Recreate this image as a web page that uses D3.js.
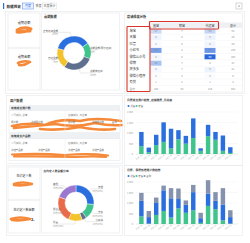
<!DOCTYPE html>
<html><head><meta charset="utf-8">
<script src="https://cdn.jsdelivr.net/npm/d3@7"></script>
<style>html,body{margin:0;padding:0;background:#fff;overflow:hidden}svg{display:block;font-family:"Noto Sans CJK SC","Noto Sans",sans-serif}</style>
</head><body><svg id="c" width="250" height="243"></svg>
<script>
// ---------- DATA ----------
const months = ["2023-01","2023-02","2023-03","2023-04","2023-05","2023-06","2023-07","2023-08","2023-09","2023-10","2023-11","2023-12","2024-01"];
const c1Old = [373,85,424,576,271,695,491,763,150,847,678,150,50];
const c1New = [677,220,491,932,932,440,373,932,121,543,372,731,272];
const c2A = [362,17,431,621,310,741,534,655,52,862,707,172,17];
const c2B = [741,311,569,982,914,449,380,862,224,586,396,759,311];
const c2C = [380,292,259,225,483,500,207,345,258,638,414,776,327];
const yTicks = [0,500,1000,1500,2000];
const donut1Names = ["正常还款金额","逾期金额(预计还款)","逾期未还款","已还金额"];
const donut1Vals = [130,55,105,70];
const donut2Names = ["天猫","京东","小红书","抖音","拼多多","其他"];
const donut2Vals = [95,50,15,45,85,70];
const channels = ["淘宝","天猫","抖音","小红书","微信公众号","得物","拼多多","微信小程序","有赞"];
const tableCols = ["直营","联营","代运营","总计"];
const colDirect = [27,8,4,60,6,40,5,2,1];
const colJoint = [7,8,8,4,8,7,7,3,2];
const colAgent = [30,9,8,65,90,0,9,3,1];
const colTotal = [64,25,20,129,104,47,21,8,4];

// ---------- HELPERS ----------
const svg = d3.select("#c");
const FONT = '"Noto Sans CJK SC","Noto Sans",sans-serif';
function txt(x,y,s,size,fill,anchor,weight){
  return svg.append("text").attr("x",x).attr("y",y).text(s)
    .attr("font-size",size).attr("fill",fill||"#333")
    .attr("text-anchor",anchor||"start").attr("font-weight",weight||"normal");
}
function box(x,y,w,h,stroke,fill){
  return svg.append("rect").attr("x",x).attr("y",y).attr("width",w).attr("height",h)
    .attr("fill",fill||"none").attr("stroke",stroke||"#e6e8eb").attr("stroke-width",0.6);
}
const BLUE="#2b6fdf", GREEN="#3fc48c", GRAY="#8592ad", YEL="#f4c22b", RED="#ea6b4a", PUR="#9a78d0", SLATE="#5f6f8f";

// ---------- HEADER ----------
svg.append("rect").attr("x",3).attr("y",3).attr("width",1.2).attr("height",6).attr("fill",BLUE);
txt(6.5,8,"数据概览",3.6,"#333","start","bold");
box(22.5,3,11,6,"#6b9cf0","#eef4ff");
txt(28,7.4,"月度",3,BLUE,"middle");
txt(38.5,7.4,"季度",3,"#666","middle");
box(42.5,3,14,6,"#dde0e4","#fff");
txt(49.5,7.4,"年度累计",3,"#666","middle");
box(236,3,6,6,"#bbb","#fff");
svg.append("path").attr("d","M238,6H240M239,5V7").attr("stroke","#999").attr("stroke-width",0.5);

// ---------- TOP CARD ----------
box(5.5,11.5,239,82);
box(8,13,32,35); box(8,48,32,42);
txt(24,24,"逾期总额",3.2,"#333","middle");
txt(24,58,"逾期金额",3.2,"#333","middle");
box(41.5,13,78,77);
txt(44,18,"逾期数据",3.2,"#333","start","bold");
box(124.5,13,118,79);
txt(127,18,"店铺维度分析",3.2,"#333","start","bold");

// orange redaction scribbles
const scrib = svg.append("g").attr("fill","none").attr("stroke","#f58a3a").attr("stroke-linecap","round").attr("stroke-linejoin","round");
scrib.append("path").attr("d","M17,30 Q24,26 31,29 Q24,33 17,32 Q24,31 30,31").attr("stroke-width",3);
scrib.append("path").attr("d","M18,63 Q24,60 30,62 Q24,66 19,65").attr("stroke-width",2.6);

// donut 1
{
  const cx=74, cy=53, ro=17, ri=10.5;
  const pie = d3.pie().sort(null).startAngle(-75*Math.PI/180).endAngle(285*Math.PI/180);
  const arcs = pie(donut1Vals);
  const arc = d3.arc().innerRadius(ri).outerRadius(ro);
  const cols=[BLUE,GREEN,SLATE,YEL];
  const g = svg.append("g").attr("transform",`translate(${cx},${cy})`);
  g.selectAll("path").data(arcs).join("path").attr("d",arc).attr("fill",(d,i)=>cols[i]).attr("stroke","#fff").attr("stroke-width",0.4);
  arcs.forEach((d,i)=>{
    const a=(d.startAngle+d.endAngle)/2;
    const x1=Math.sin(a)*ro, y1=-Math.cos(a)*ro;
    const x2=Math.sin(a)*(ro+4), y2=-Math.cos(a)*(ro+4);
    const right=x2>0, x3 = right? 22: -22;
    g.append("path").attr("d",`M${x1},${y1}L${x2},${y2}L${x3},${y2}`).attr("fill","none").attr("stroke","#bbb").attr("stroke-width",0.3);
    g.append("text").attr("x",x3).attr("y",y2-0.8).text(donut1Names[i]).attr("font-size",2.5).attr("fill","#555").attr("text-anchor",right?"start":"end").attr("dx",right?-6:6);
    g.append("text").attr("x",x3).attr("y",y2+3).text(donut1Vals[i]+"万").attr("font-size",2.3).attr("fill","#999").attr("text-anchor",right?"start":"end").attr("dx",right?-6:6);
  });
}

// table
{
  const colX=[156,182,210,233], y0=31, step=6.4;
  svg.append("rect").attr("x",150).attr("y",22.5).attr("width",92).attr("height",5.5).attr("fill","#eef0f3");
  tableCols.forEach((c,i)=>txt(colX[i],26.8,c,3,"#333","middle"));
  const heat = d3.scaleLinear().domain([0,30,90]).range(["#ffffff","#c4d6f6","#2a69dc"]);
  const cols=[colDirect,colJoint,colAgent,colTotal];
  channels.forEach((ch,r)=>{
    const y=y0+r*step;
    txt(129.5,y+1,ch,3.2,"#333","start");
    svg.append("line").attr("x1",150).attr("x2",242).attr("y1",y+3.2).attr("y2",y+3.2).attr("stroke","#f0f1f3").attr("stroke-width",0.4);
    cols.forEach((arr,ci)=>{
      const v=arr[r];
      if(ci===0||ci===2){
        svg.append("rect").attr("x",colX[ci]-5.5).attr("y",y-2.3).attr("width",11).attr("height",5).attr("fill",heat(v));
      }
      txt(colX[ci],y+1,v,2.5,(ci!==3&&v>70)?"#fff":"#888","middle");
    });
  });
  const yt=y0+channels.length*step;
  txt(129.5,yt+1,"合计",2.8,"#666","start");
  cols.forEach((arr,ci)=>txt(colX[ci],yt+1,d3.sum(arr),2.5,"#888","middle"));
  svg.append("rect").attr("x",127).attr("y",26.5).attr("width",23).attr("height",65).attr("fill","none").attr("stroke","#d8342b").attr("stroke-width",1.1).attr("rx",0.8);
  svg.append("rect").attr("x",149.5).attr("y",21.5).attr("width",69).attr("height",7.5).attr("fill","none").attr("stroke","#d8342b").attr("stroke-width",1.1).attr("rx",0.8);
}

// ---------- USER DATA PANEL ----------
box(6.5,95.5,116,68);
txt(10,101.5,"用户数据",3.2,"#333","start","bold");
svg.append("rect").attr("x",9).attr("y",105).attr("width",111).attr("height",5.5).attr("fill","#eef1f4");
txt(11,109,"有效成交用户数",2.8,"#333","start","bold");
box(9,110.5,111,22);
svg.append("line").attr("x1",65).attr("x2",65).attr("y1",110.5).attr("y2",132.5).attr("stroke","#e6e8eb").attr("stroke-width",0.5);
txt(11,115.5,"公司实际_总量",2.5,"#888");
txt(68,115.5,"店铺实际_平台量",2.5,"#888");
[["用户数",11],["新增用户数",31],["用户数",68],["新增用户数",92],["复购",112]].forEach(d=>txt(d[1],122.5,d[0],2.4,"#666"));
svg.append("rect").attr("x",9).attr("y",133).attr("width",111).attr("height",5.5).attr("fill","#eef1f4");
txt(11,137,"有效成交产品数",2.8,"#333","start","bold");
box(9,138.5,111,22);
svg.append("line").attr("x1",65).attr("x2",65).attr("y1",138.5).attr("y2",160.5).attr("stroke","#e6e8eb").attr("stroke-width",0.5);
txt(11,143.5,"公司实际_总量",2.5,"#888");
txt(68,143.5,"店铺实际_平台量",2.5,"#888");
[["新增产品数",11],["新增产品数",38],["新增产品数",68],["新增产品数",92]].forEach(d=>txt(d[1],150.5,d[0],2.4,"#666"));
scrib.append("path").attr("d","M12,126 Q30,122 45,125 Q60,118 80,121 Q95,117 121,121 M14,128 Q35,126 55,124 Q75,128 95,123 Q110,126 122,125 M40,129 Q60,131 80,127 Q100,131 115,129").attr("stroke-width",2.6);
scrib.append("path").attr("d","M12,154.5 Q40,153 65,155 Q90,153 108,155.5 M14,156.5 Q45,156 75,157 Q95,156 106,157").attr("stroke-width",2.2);

// ---------- BOTTOM LEFT PANEL ----------
box(6.5,165.5,116,70);
box(8,167,32,33); box(8,200,32,33);
txt(24,177,"在约定人数",3,"#333","middle");
txt(24,211,"在约定人数金额",3,"#333","middle");
scrib.append("path").attr("d","M14,184 Q22,181 32,184 Q22,186 14,185").attr("stroke-width",2.6);
scrib.append("path").attr("d","M11,219 Q20,216 30,219 Q20,221 12,220").attr("stroke-width",2.6);
txt(31,221,"2.",4,"#333","start","bold");
box(41.5,167,78,66);
txt(43.5,172,"在约定人数金额分布",2.8,"#333","start","bold");
{
  const cx=76, cy=203, ro=18, ri=11;
  const pie = d3.pie().sort(null);
  const arcs = pie(donut2Vals);
  const arc = d3.arc().innerRadius(ri).outerRadius(ro);
  const cols=[BLUE,GREEN,SLATE,YEL,RED,PUR];
  const g = svg.append("g").attr("transform",`translate(${cx},${cy})`);
  g.selectAll("path").data(arcs).join("path").attr("d",arc).attr("fill",(d,i)=>cols[i]).attr("stroke","#fff").attr("stroke-width",0.4);
  arcs.forEach((d,i)=>{
    const a=(d.startAngle+d.endAngle)/2;
    const x1=Math.sin(a)*ro, y1=-Math.cos(a)*ro;
    const x2=Math.sin(a)*(ro+3), y2=-Math.cos(a)*(ro+3);
    const right=x2>0, x3 = right? 27: -23;
    g.append("path").attr("d",`M${x1},${y1}L${x2},${y2}L${x3},${y2}`).attr("fill","none").attr("stroke","#bbb").attr("stroke-width",0.3);
    g.append("text").attr("x",x3).attr("y",y2-0.8).text(donut2Names[i]).attr("font-size",2.5).attr("fill","#555").attr("text-anchor",right?"end":"start");
    g.append("text").attr("x",x3).attr("y",y2+3).text(donut2Vals[i]+"万(25%)").attr("font-size",2.2).attr("fill","#999").attr("text-anchor",right?"end":"start");
  });
}

// ---------- BAR CHARTS ----------
function barChart(top, bottom, title, series, colors, names, legendColors){
  box(124.5,top-3.5,118,bottom-top+15);
  txt(127,top+1.5,title,2.8,"#333","start","bold");
  names.forEach((n,i)=>{
    svg.append("circle").attr("cx",128.5+i*8).attr("cy",top+7).attr("r",1).attr("fill",legendColors[i]);
    txt(130.3+i*8,top+8,n,2.4,"#666");
  });
  const x = d3.scaleBand().domain(months).range([136.2,235.5]).padding(0.4);
  const y = d3.scaleLinear().domain([0,2000]).range([bottom, top+13]);
  const ax = svg.append("g").attr("transform","translate(134,0)").call(d3.axisLeft(y).tickValues(yTicks).tickSize(0).tickPadding(1));
  ax.select(".domain").remove();
  ax.selectAll("text").attr("font-size",2.4).attr("fill","#999").attr("font-family",FONT);
  svg.append("g").selectAll("line").data(yTicks).join("line").attr("x1",136).attr("x2",238).attr("y1",d=>y(d)).attr("y2",d=>y(d)).attr("stroke",d=>d===0?"#ccc":"#eee").attr("stroke-width",0.4);
  const stacked = d3.stack().keys(series.map((s,i)=>i)).value((d,k)=>series[k][d])(months.map((m,i)=>i));
  stacked.forEach((layer,k)=>{
    svg.append("g").selectAll("rect").data(layer).join("rect")
      .attr("x",(d,i)=>x(months[i])).attr("width",x.bandwidth())
      .attr("y",d=>y(d[1])).attr("height",d=>y(d[0])-y(d[1])).attr("fill",colors[k]);
  });
  months.forEach(m=>{
    svg.append("text").attr("transform",`translate(${x(m)+x.bandwidth()/2+1},${bottom+1.5}) rotate(-35)`).attr("text-anchor","end").attr("font-size",2).attr("fill","#999").text(m);
  });
}
barChart(99, 154, "月度成交用户趋势_店铺维度_月总量", [c1Old,c1New], [GREEN,BLUE], ["新客","老客"], [BLUE,GREEN]);
barChart(169, 224, "月度、季度新增用户数趋势", [c2A,c2B,c2C], [GREEN,BLUE,GRAY], ["新客","老客","复购"], [BLUE,GREEN,GRAY]);
</script></body></html>
